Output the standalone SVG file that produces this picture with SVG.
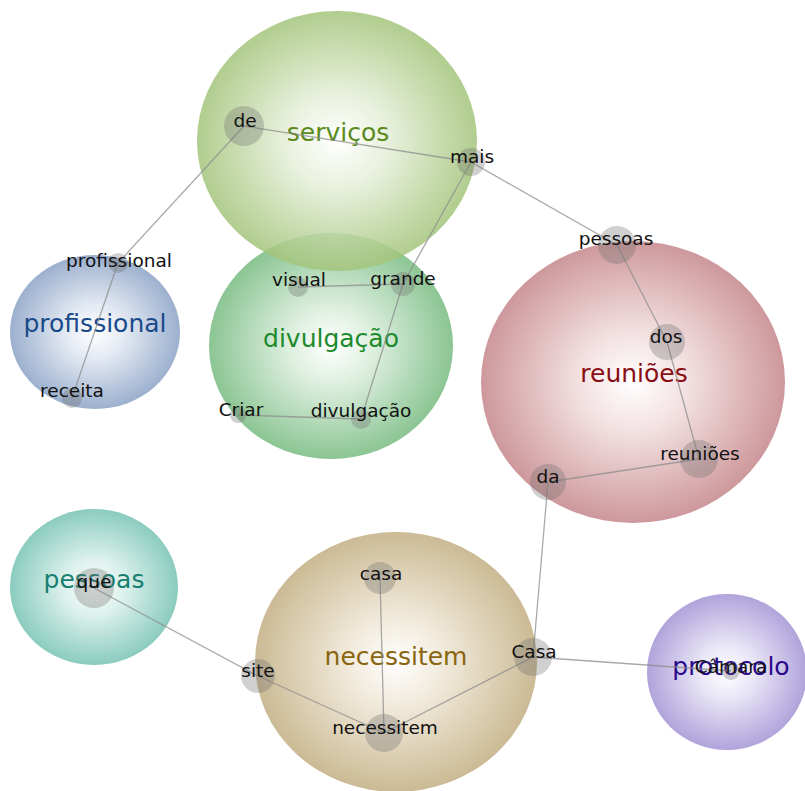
<svg xmlns="http://www.w3.org/2000/svg" width="805" height="791" viewBox="0 0 805 791">
  <style>
    .cluster { opacity: 0.85; }
    .clabel { font-family: "DejaVu Sans", "Liberation Sans", sans-serif; font-size: 25px; text-anchor: middle; }
    .dot { fill: #6e6e6e; fill-opacity: 0.32; }
    .word { font-family: "DejaVu Sans", "Liberation Sans", sans-serif; font-size: 18.5px; fill: #111; text-anchor: middle; }
    .edge { stroke: #8c8c8c; stroke-width: 1.3; stroke-opacity: 0.75; fill: none; }
  </style>
  <defs>
    <radialGradient id="gServicos"><stop offset="0" stop-color="#ffffff"/><stop offset="0.35" stop-color="#e6efd9"/><stop offset="1" stop-color="#a3c47a"/></radialGradient>
    <radialGradient id="gDivulgacao"><stop offset="0" stop-color="#ffffff"/><stop offset="0.35" stop-color="#d7ecd9"/><stop offset="1" stop-color="#77bb80"/></radialGradient>
    <radialGradient id="gProfissional"><stop offset="0" stop-color="#ffffff"/><stop offset="0.35" stop-color="#dfe6f1"/><stop offset="1" stop-color="#8aa2c6"/></radialGradient>
    <radialGradient id="gReunioes"><stop offset="0" stop-color="#ffffff"/><stop offset="0.35" stop-color="#f1dcdd"/><stop offset="1" stop-color="#c5868a"/></radialGradient>
    <radialGradient id="gPessoas"><stop offset="0" stop-color="#ffffff"/><stop offset="0.35" stop-color="#d8efea"/><stop offset="1" stop-color="#76c3b3"/></radialGradient>
    <radialGradient id="gNecessitem"><stop offset="0" stop-color="#ffffff"/><stop offset="0.35" stop-color="#eee6d4"/><stop offset="1" stop-color="#c2ae82"/></radialGradient>
    <radialGradient id="gProtocolo"><stop offset="0" stop-color="#ffffff"/><stop offset="0.35" stop-color="#e5e1f5"/><stop offset="1" stop-color="#a293d4"/></radialGradient>
  </defs>

  <!-- topic clusters -->
  <g id="cluster-divulgacao"><ellipse class="cluster" cx="331" cy="346" rx="122" ry="113" fill="url(#gDivulgacao)"/></g>
  <g id="cluster-servicos"><ellipse class="cluster" cx="337" cy="141" rx="140" ry="130" fill="url(#gServicos)"/></g>
  <g id="cluster-profissional"><ellipse class="cluster" cx="95" cy="332" rx="85" ry="77" fill="url(#gProfissional)"/></g>
  <g id="cluster-reunioes"><ellipse class="cluster" cx="633" cy="382" rx="152" ry="141" fill="url(#gReunioes)"/></g>
  <g id="cluster-pessoas"><ellipse class="cluster" cx="94" cy="587" rx="84" ry="78" fill="url(#gPessoas)"/></g>
  <g id="cluster-necessitem"><ellipse class="cluster" cx="396" cy="662" rx="141" ry="130" fill="url(#gNecessitem)"/></g>
  <g id="cluster-protocolo"><ellipse class="cluster" cx="727" cy="672" rx="80" ry="78" fill="url(#gProtocolo)"/></g>

  <!-- cluster titles -->
  <g id="cluster-labels">
    <text class="clabel" x="338" y="141" fill="#5b8a1c">serviços</text>
    <text class="clabel" x="331" y="347" fill="#1d8a2c">divulgação</text>
    <text class="clabel" x="95" y="332" fill="#1a4a8a">profissional</text>
    <text class="clabel" x="634" y="382" fill="#8a0f14">reuniões</text>
    <text class="clabel" x="94" y="588" fill="#188070">pessoas</text>
    <text class="clabel" x="396" y="665" fill="#8a6510">necessitem</text>
    <text class="clabel" x="731" y="675" fill="#2a0a8a">protocolo</text>
  </g>

  <!-- connectors -->
  <g id="edges">
    <line class="edge" x1="244" y1="126" x2="118" y2="263"/>
    <line class="edge" x1="244" y1="126" x2="471" y2="162"/>
    <line class="edge" x1="471" y1="162" x2="617" y2="245"/>
    <line class="edge" x1="471" y1="162" x2="403" y2="284"/>
    <line class="edge" x1="403" y1="284" x2="361" y2="419"/>
    <line class="edge" x1="298" y1="287" x2="403" y2="284"/>
    <line class="edge" x1="238" y1="415" x2="361" y2="419"/>
    <line class="edge" x1="118" y1="263" x2="72" y2="398"/>
    <line class="edge" x1="617" y1="245" x2="667" y2="342"/>
    <line class="edge" x1="667" y1="342" x2="699" y2="459"/>
    <line class="edge" x1="699" y1="459" x2="548" y2="482"/>
    <line class="edge" x1="548" y1="482" x2="533" y2="657"/>
    <line class="edge" x1="533" y1="657" x2="731" y2="671"/>
    <line class="edge" x1="533" y1="657" x2="384" y2="733"/>
    <line class="edge" x1="380" y1="578" x2="384" y2="733"/>
    <line class="edge" x1="258" y1="676" x2="384" y2="733"/>
    <line class="edge" x1="94" y1="588" x2="258" y2="676"/>
  </g>

  <!-- words -->
  <g id="node-de"><circle class="dot" cx="244" cy="126" r="20"/><text class="word" x="245" y="127">de</text></g>
  <g id="node-mais"><circle class="dot" cx="471" cy="162" r="14"/><text class="word" x="472" y="163">mais</text></g>
  <g id="node-profissional"><circle class="dot" cx="118" cy="263" r="10"/><text class="word" x="119" y="267">profissional</text></g>
  <g id="node-receita"><circle class="dot" cx="72" cy="398" r="10"/><text class="word" x="72" y="397">receita</text></g>
  <g id="node-visual"><circle class="dot" cx="298" cy="287" r="10"/><text class="word" x="299" y="286">visual</text></g>
  <g id="node-grande"><circle class="dot" cx="403" cy="284" r="12"/><text class="word" x="403" y="285">grande</text></g>
  <g id="node-criar"><circle class="dot" cx="238" cy="415" r="8"/><text class="word" x="241" y="416">Criar</text></g>
  <g id="node-divulgacao"><circle class="dot" cx="361" cy="419" r="10"/><text class="word" x="361" y="417">divulgação</text></g>
  <g id="node-pessoas"><circle class="dot" cx="617" cy="245" r="19"/><text class="word" x="616" y="245">pessoas</text></g>
  <g id="node-dos"><circle class="dot" cx="667" cy="342" r="18"/><text class="word" x="666" y="343">dos</text></g>
  <g id="node-reunioes"><circle class="dot" cx="699" cy="459" r="19"/><text class="word" x="700" y="460">reuniões</text></g>
  <g id="node-da"><circle class="dot" cx="548" cy="482" r="18"/><text class="word" x="548" y="483">da</text></g>
  <g id="node-que"><circle class="dot" cx="94" cy="588" r="20"/><text class="word" x="94" y="588">que</text></g>
  <g id="node-site"><circle class="dot" cx="258" cy="676" r="17"/><text class="word" x="258" y="677">site</text></g>
  <g id="node-casa"><circle class="dot" cx="380" cy="578" r="16"/><text class="word" x="381" y="580">casa</text></g>
  <g id="node-necessitem"><circle class="dot" cx="384" cy="733" r="19"/><text class="word" x="385" y="734">necessitem</text></g>
  <g id="node-Casa"><circle class="dot" cx="533" cy="657" r="19"/><text class="word" x="534" y="658">Casa</text></g>
  <g id="node-camara"><circle class="dot" cx="731" cy="671" r="9"/><text class="word" x="731" y="673">Câmara</text></g>
</svg>
